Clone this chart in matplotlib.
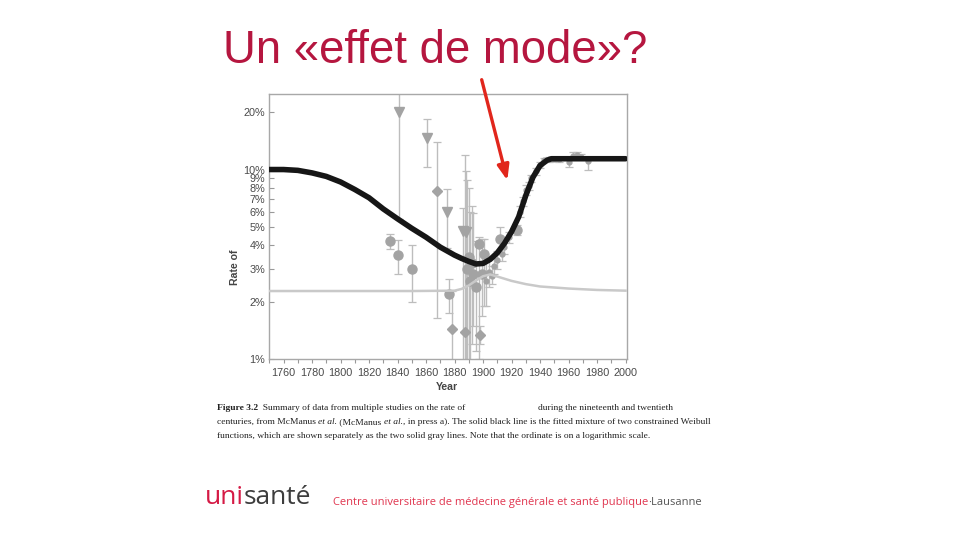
import matplotlib.pyplot as plt
import numpy as np
from matplotlib.ticker import FixedLocator, FuncFormatter, MultipleLocator

# fitted mixture (black line), in %
curve_year = [1750, 1760, 1770, 1780, 1790, 1800, 1810, 1820, 1830, 1840, 1850, 1860,
              1870, 1880, 1885, 1890, 1895, 1900, 1905, 1910, 1915, 1920, 1925, 1930,
              1935, 1940, 1945, 1948, 1960, 1980, 2000]
curve_pct = [10.0, 10.0, 9.9, 9.6, 9.2, 8.6, 7.85, 7.1, 6.2, 5.5, 4.9, 4.4,
             3.9, 3.54, 3.4, 3.28, 3.18, 3.2, 3.36, 3.64, 4.08, 4.7, 5.63, 7.3,
             9.1, 10.5, 11.2, 11.4, 11.4, 11.4, 11.4]

# single Weibull components (gray line)
gray_year = [1750, 1800, 1850, 1880, 1885, 1890, 1895, 1900, 1905, 1910, 1920, 1930,
             1940, 1960, 1980, 2000]
gray_pct = [2.29, 2.29, 2.29, 2.3, 2.35, 2.45, 2.6, 2.74, 2.8, 2.73, 2.59, 2.49,
            2.42, 2.36, 2.32, 2.3]

# studies: circles
circ_year = [1835, 1840, 1850, 1876, 1889, 1890, 1891, 1892, 1893, 1895, 1897, 1899, 1901, 1912, 1924]
circ_val = [4.2, 3.55, 3.0, 2.2, 3.0, 3.45, 2.6, 3.2, 2.8, 2.4, 4.05, 2.8, 3.6, 4.3, 4.8]
circ_lo = [3.8, 2.8, 2.0, 1.75, 0.8, 0.8, 0.9, 1.2, 1.5, 1.1, 1.0, 1.7, 1.9, 3.6, 4.5]
circ_hi = [4.6, 4.25, 4.0, 2.65, 8.8, 8.0, 6.0, 6.4, 5.9, 4.2, 4.4, 4.3, 4.3, 5.0, 5.1]

# studies: down triangles
tri_year = [1841, 1861, 1875, 1886, 1888]
tri_val = [20.0, 14.6, 6.0, 4.75, 4.7]
tri_lo = [5.5, 10.3, 3.85, 0.8, 0.8]
tri_hi = [40.0, 18.5, 7.9, 6.3, 9.8]

# studies: diamonds
dia_year = [1868, 1878, 1887, 1898]
dia_val = [7.7, 1.45, 1.4, 1.35]
dia_lo = [1.65, 0.8, 0.8, 1.2]
dia_hi = [13.9, 2.3, 12.0, 1.5]

# small studies along the rising part
sm_year = [1902, 1904, 1906, 1908, 1910, 1913, 1915, 1918, 1926, 1928, 1930, 1932,
           1934, 1937, 1940, 1943, 1946, 1950, 1953, 1960, 1963, 1966, 1969, 1974]
sm_val = [2.6, 2.9, 2.75, 3.1, 3.35, 3.6, 3.9, 4.4, 6.0, 6.8, 7.8, 8.2,
          9.0, 9.8, 10.6, 11.2, 11.3, 11.4, 11.3, 11.0, 11.8, 12.0, 11.7, 11.1]
sm_lo = [1.9, 2.4, 2.5, 2.8, 3.0, 3.3, 3.6, 4.1, 5.6, 6.4, 7.3, 7.8,
         8.6, 9.4, 10.2, 10.9, 11.0, 11.1, 11.0, 10.3, 11.3, 11.6, 11.3, 10.0]
sm_hi = [3.5, 3.4, 3.1, 3.4, 3.7, 3.9, 4.2, 4.7, 6.4, 7.2, 8.3, 8.6,
         9.4, 10.2, 11.0, 11.5, 11.6, 11.7, 11.6, 11.5, 12.3, 12.4, 12.1, 11.6]

yticks = [1, 2, 3, 4, 5, 6, 7, 8, 9, 10, 20]

RED = '#b5163f'

fig = plt.figure(figsize=(9.6, 5.4), dpi=100)
ax = fig.add_axes([0.2805, 0.3346, 0.3726, 0.4913])
renderer = fig.canvas.get_renderer()


def errs(v, lo, hi):
    v = np.array(v)
    return [v - np.array(lo), np.array(hi) - v]


ebar = dict(ls='none', ecolor='#bdbdbd', elinewidth=1.0, capsize=3, capthick=0.9,
            mfc='#a3a3a3', mec='#a3a3a3', zorder=2)
ax.errorbar(sm_year, sm_val, yerr=errs(sm_val, sm_lo, sm_hi), fmt='o', ms=3.5, **ebar)
ax.errorbar(circ_year, circ_val, yerr=errs(circ_val, circ_lo, circ_hi), fmt='o', ms=6.5, **ebar)
ax.errorbar(tri_year, tri_val, yerr=errs(tri_val, tri_lo, tri_hi), fmt='v', ms=7, **ebar)
ax.errorbar(dia_year, dia_val, yerr=errs(dia_val, dia_lo, dia_hi), fmt='D', ms=5, **ebar)

ax.plot(gray_year, gray_pct, color='#c9c9c9', lw=1.8, zorder=3)
ax.plot(curve_year, curve_pct, color='#161616', lw=4.0, solid_capstyle='round', zorder=4)

ax.set_yscale('log')
ax.set_xlim(1750, 2001)
ax.set_ylim(1, 25)
ax.yaxis.set_major_locator(FixedLocator(yticks))
ax.yaxis.set_major_formatter(FuncFormatter(lambda v, p: '%d%%' % v))
ax.yaxis.set_minor_locator(FixedLocator([]))
ax.xaxis.set_minor_locator(MultipleLocator(10))
ax.set_xticks(np.arange(1760, 2001, 20))
ax.tick_params(axis='y', direction='in', length=3.5, width=0.8, color='#999999',
               labelsize=7.8, labelcolor='#4a4a4a', pad=3)
ax.tick_params(axis='x', which='both', direction='out', length=3, width=0.8, color='#999999',
               labelsize=7.8, labelcolor='#4a4a4a', pad=3)
for lab in ax.get_xticklabels() + ax.get_yticklabels():
    lab.set_family('Liberation Sans')
for s in ax.spines.values():
    s.set_color('#a8a8a8')
    s.set_linewidth(1.0)

fig.text(235 / 960, 1 - 267 / 540, 'Rate of', rotation=90, ha='center', va='center',
         fontsize=7.6, fontweight='bold', color='#444444', family='Liberation Sans')
fig.text(447 / 960, 1 - 387 / 540, 'Year', ha='center', va='center',
         fontsize=7.6, fontweight='bold', color='#444444', family='Liberation Sans')

# title and arrow
fig.text(435 / 960, 1 - 62.7 / 540, 'Un «effet de mode»?', ha='center', va='baseline',
         fontsize=32.8, color=RED, family='Liberation Sans')
ax.annotate('', xy=(508, 540 - 183), xytext=(481, 540 - 77),
            xycoords='figure pixels', textcoords='figure pixels',
            arrowprops=dict(arrowstyle='-|>,head_length=0.9,head_width=0.35',
                            color='#e1261c', lw=2.4), annotation_clip=False)


# text runs on one baseline, x and y in pixels from top-left
def run(x, y, pieces, **common):
    for txt, kw in pieces:
        t = fig.text(x / 960, 1 - y / 540, txt, va='baseline', ha='left', **{**common, **kw})
        x += t.get_window_extent(renderer).width


cap = dict(fontsize=6.8, color='#222222', family='Liberation Serif')
run(217, 410, [('Figure 3.2', dict(fontweight='bold')),
               ('  Summary of data from multiple studies on the rate of', {})], **cap)
run(538, 410, [('during the nineteenth and twentieth', {})], **cap)
run(217, 424, [('centuries, from McManus ', {}), ('et al.', dict(style='italic')),
               (' (McManus ', {}), ('et al.', dict(style='italic')),
               (', in press a). The solid black line is the fitted mixture of two constrained Weibull', {})],
    **cap)
run(217, 438, [('functions, which are shown separately as the two solid gray lines. '
                'Note that the ordinate is on a logarithmic scale.', {})], **cap)

# footer
run(205, 504, [('uni', dict(color='#d51a45')), ('santé', dict(color='#3d3d3d'))],
    fontsize=19, family='Open Sans')
run(333, 505, [('Centre universitaire de médecine générale et santé publique', dict(color='#e0354f')),
               ('·Lausanne', dict(color='#555555'))],
    fontsize=8.0, family='Open Sans')

fig.savefig('out.png', dpi=100)
